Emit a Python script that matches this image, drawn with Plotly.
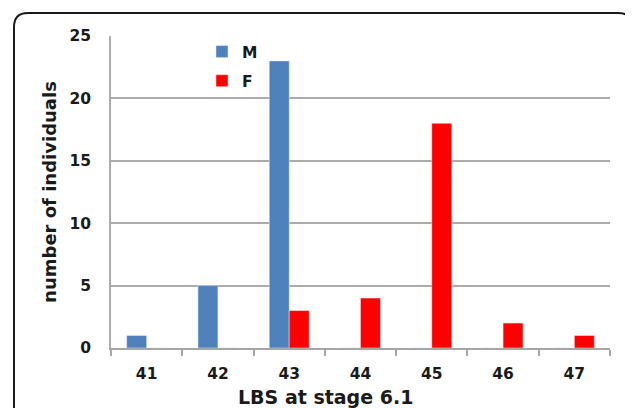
import plotly.graph_objects as go

categories = ["41", "42", "43", "44", "45", "46", "47"]
male = [1, 5, 23, 0, 0, 0, 0]
female = [0, 0, 3, 4, 18, 2, 1]
y_ticks = [0, 5, 10, 15, 20, 25]

# page offset of the figure (browser body margin)
OFF = 8
# plot area in page pixels
L, R, T, B = 111, 610, 36, 348
W, H = 633, 408
pw, ph = R - L, B - T

def px(x):
    return (x - L) / pw

def py(y):
    return (B - y) / ph

FAM = "DejaVu Sans, Verdana, sans-serif"

fig = go.Figure()
fig.add_trace(go.Bar(name="M", x=categories, y=male, marker_color="#4F81BD",
                     legendgroup="m"))
fig.add_trace(go.Bar(name="F", x=categories, y=female, marker_color="#FF0000",
                     legendgroup="f"))

# rounded frame
fl, fr, ft, fb, r = 14, 632, 13, 440, 14
path = (f"M {px(fl)},{py(fb)} L {px(fl)},{py(ft + r)} "
        f"Q {px(fl)},{py(ft)} {px(fl + r)},{py(ft)} "
        f"L {px(fr - r)},{py(ft)} Q {px(fr)},{py(ft)} {px(fr)},{py(ft + r)} "
        f"L {px(fr)},{py(fb)}")

fig.update_layout(
    width=W - OFF, height=H - OFF,
    margin=dict(l=L - OFF, r=W - R, t=T - OFF, b=H - B),
    paper_bgcolor="white", plot_bgcolor="white",
    barmode="group", bargap=0.44, bargroupgap=0,
    font=dict(family=FAM, color="#1a1a1a", size=15.5, weight="bold"),
    legend=dict(x=px(202), y=py(35), xanchor="left", yanchor="top",
                bgcolor="rgba(0,0,0,0)", traceorder="grouped",
                tracegroupgap=6, font=dict(size=15.5, weight="bold"),
                itemwidth=30),
    xaxis=dict(type="category", showline=True, linecolor="#A6A6A6", linewidth=1.5,
               ticks="outside", tickson="boundaries", ticklen=6, tickcolor="#A6A6A6",
               tickwidth=1.5, tickfont=dict(size=15.5, weight="bold"),
               ticklabelstandoff=11, showgrid=False),
    yaxis=dict(range=[0, 25], tickvals=y_ticks, showgrid=True, gridcolor="#ABABAB",
               gridwidth=1.5, showline=True, linecolor="#ABABAB", linewidth=1.5,
               ticks="", tickfont=dict(size=15.5, weight="bold"),
               ticklabelstandoff=15, zeroline=False,
               title=dict(text="number of individuals",
                          font=dict(size=18, weight="bold"), standoff=8)),
    shapes=[dict(type="path", path=path, xref="paper", yref="paper",
                 line=dict(color="#1a1a1a", width=2))],
    annotations=[dict(text="LBS at stage 6.1", x=px(325), y=py(397),
                      xref="paper", yref="paper", showarrow=False,
                      xanchor="center", yanchor="middle",
                      font=dict(size=19, weight="bold"))],
)

fig.write_html("out.html")
